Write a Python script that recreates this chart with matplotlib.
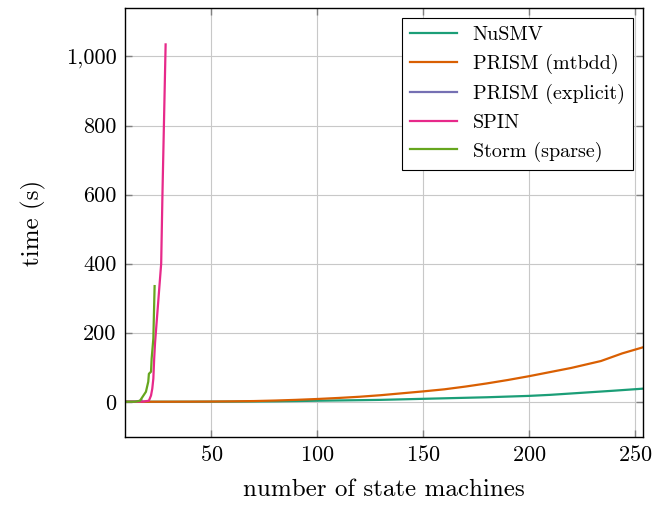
import matplotlib.pyplot as plt
from matplotlib.ticker import FuncFormatter

plt.rcParams['font.family'] = 'serif'
plt.rcParams['font.serif'] = ['cmr10']
plt.rcParams['mathtext.fontset'] = 'cm'
plt.rcParams['axes.formatter.use_mathtext'] = True

# data (x = number of state machines, y = time in s)
nusmv_x = [10, 20, 30, 40, 50, 60, 70, 80, 90, 100, 110, 120, 130, 140, 150,
           160, 170, 180, 190, 200, 210, 220, 230, 240, 254]
nusmv_y = [0, 0, 0.05, 0.1, 0.3, 0.5, 0.8, 1.2, 2, 3, 3.8, 4.6, 5.5, 7, 8.5,
           10, 11.5, 13, 15, 17, 20, 24, 28, 32, 38]

mtbdd_x = [10, 20, 30, 40, 50, 60, 70, 80, 90, 100, 110, 120, 130, 140, 150,
           160, 170, 180, 190, 200, 210, 220, 234, 244, 254]
mtbdd_y = [0, 0, 0.1, 0.3, 0.6, 1.2, 2, 3.5, 5.5, 8, 11, 14.5, 19, 24.5, 30,
           36, 44, 53, 63, 74, 86, 98, 118, 140, 158]

explicit_x = [10, 12, 14, 16, 17]
explicit_y = [0, 0.1, 0.5, 2, 5]

spin_x = [10, 14, 18, 19.4, 20.5, 21.5, 22.1, 22.6, 23.0, 23.4, 26.3, 26.9, 28.4]
spin_y = [0, 0, 0.5, 2, 3, 18, 38, 67, 125, 170, 400, 600, 1035]

storm_x = [10, 14, 16.3, 19.1, 20.2, 20.5, 21.5, 21.8, 22.6, 23.2]
storm_y = [0, 0, 3, 29, 58, 81, 87, 125, 183, 335]

series = [
    ('NuSMV', nusmv_x, nusmv_y, '#1b9e77'),
    ('PRISM (mtbdd)', mtbdd_x, mtbdd_y, '#d95f02'),
    ('PRISM (explicit)', explicit_x, explicit_y, '#7570b3'),
    ('SPIN', spin_x, spin_y, '#e7298a'),
    ('Storm (sparse)', storm_x, storm_y, '#66a61e'),
]

fig = plt.figure(figsize=(6.56, 5.09), dpi=100)
ax = fig.add_axes([0.1905, 0.1415, 0.7895, 0.8425])

for name, xs, ys, col in series:
    ax.plot(xs, ys, color=col, lw=1.6, label=name)

ax.set_xlim(9.2, 253.8)
ax.set_ylim(-102, 1140)
ax.set_xticks([50, 100, 150, 200, 250])
ax.set_yticks([0, 200, 400, 600, 800, 1000])
ax.yaxis.set_major_formatter(FuncFormatter(lambda v, p: f'{v:,.0f}'))
ax.grid(True, color='#c8c8c8', lw=0.8)
ax.set_axisbelow(True)
ax.tick_params(direction='in', length=5, width=1, color='#808080',
               labelsize=16, top=True, right=True, pad=6)
for s in ax.spines.values():
    s.set_linewidth(1.0)

ax.set_xlabel('number of state machines', fontsize=18, labelpad=10)
ax.set_ylabel('time (s)', fontsize=18, labelpad=14)

leg = ax.legend(loc='upper right', fontsize=14.5, frameon=True, fancybox=False,
                edgecolor='black', framealpha=1, borderaxespad=0.5,
                handlelength=2.3, labelspacing=0.48)
leg.get_frame().set_linewidth(0.8)

fig.savefig('out.png', dpi=100)
